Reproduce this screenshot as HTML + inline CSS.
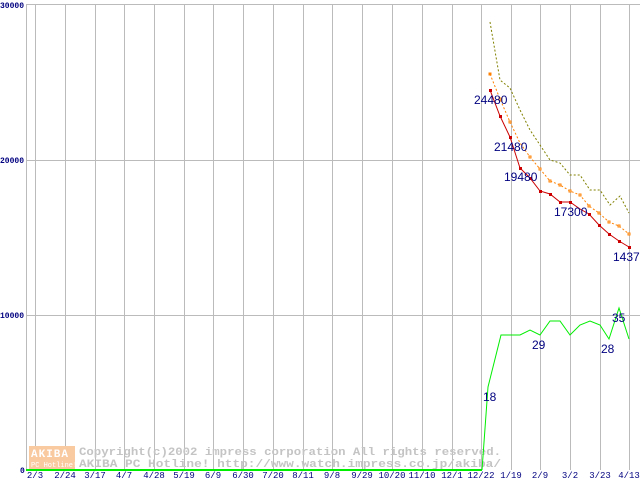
<!DOCTYPE html>
<html><head><style>body{margin:0;background:#fff}svg{display:block}</style></head><body>
<svg width="640" height="480" xmlns="http://www.w3.org/2000/svg" font-family="Liberation Mono, monospace">
<rect width="640" height="480" fill="#fff"/>
<g stroke="#bbb" stroke-width="1">
<line x1="26" y1="4.5" x2="640" y2="4.5"/>
<line x1="26" y1="160.5" x2="640" y2="160.5"/>
<line x1="26" y1="315.5" x2="640" y2="315.5"/>
<line x1="26.5" y1="4" x2="26.5" y2="470"/>
<line x1="35.5" y1="4" x2="35.5" y2="470"/><line x1="65.5" y1="4" x2="65.5" y2="470"/><line x1="95.5" y1="4" x2="95.5" y2="470"/><line x1="124.5" y1="4" x2="124.5" y2="470"/><line x1="154.5" y1="4" x2="154.5" y2="470"/><line x1="184.5" y1="4" x2="184.5" y2="470"/><line x1="213.5" y1="4" x2="213.5" y2="470"/><line x1="243.5" y1="4" x2="243.5" y2="470"/><line x1="273.5" y1="4" x2="273.5" y2="470"/><line x1="303.5" y1="4" x2="303.5" y2="470"/><line x1="332.5" y1="4" x2="332.5" y2="470"/><line x1="362.5" y1="4" x2="362.5" y2="470"/><line x1="392.5" y1="4" x2="392.5" y2="470"/><line x1="422.5" y1="4" x2="422.5" y2="470"/><line x1="452.5" y1="4" x2="452.5" y2="470"/><line x1="481.5" y1="4" x2="481.5" y2="470"/><line x1="511.5" y1="4" x2="511.5" y2="470"/><line x1="540.5" y1="4" x2="540.5" y2="470"/><line x1="570.5" y1="4" x2="570.5" y2="470"/><line x1="600.5" y1="4" x2="600.5" y2="470"/><line x1="629.5" y1="4" x2="629.5" y2="470"/>
</g>
<rect x="29" y="446" width="46" height="23" fill="#f9c9a0"/>
<text x="31" y="457" font-size="11" font-weight="bold" fill="#fff" letter-spacing="1">AKIBA</text>
<text x="31" y="467" font-size="7" fill="#fff">PC Hotline!</text>
<g fill="#c4c4c4" font-size="11" font-weight="bold">
<text x="79" y="455" textLength="422" lengthAdjust="spacingAndGlyphs">Copyright(c)2002 impress corporation All rights reserved.</text>
<text x="79" y="467" textLength="422" lengthAdjust="spacingAndGlyphs">AKIBA PC Hotline! http://www.watch.impress.co.jp/akiba/</text>
</g>
<polyline fill="none" stroke="#00ee00" stroke-width="2" points="26,470 482,470"/>
<polyline fill="none" stroke="#00ee00" stroke-width="1" points="482,470 488,387 501,335 520,335 530,330 540,335 550,321 560,321 570,335 580,325 590,321 600,325 609,339 619,308 629,339"/>
<polyline fill="none" stroke="#808000" stroke-width="1" stroke-dasharray="2,2" points="490,22 500,80 510,88 520,110 530,130 540,145 550,160 560,163 570,175 580,175 590,190 600,190 610,205 620,196 629,213"/>
<polyline fill="none" stroke="#ff8000" stroke-width="1" stroke-dasharray="2,2" points="490,74 500,99 510,122 520,143 530,157 540,169 550,181 560,185 570,191 580,195 589,206 599,213 609,222 619,226 629,234"/>
<g fill="#fff" stroke="#ff8000"><rect x="489" y="73" width="2" height="2" fill="#ff8000"/><rect x="499" y="98" width="2" height="2"/><rect x="509" y="121" width="2" height="2"/><rect x="529" y="156" width="2" height="2"/><rect x="539" y="168" width="2" height="2"/><rect x="549" y="180" width="2" height="2"/><rect x="559" y="184" width="2" height="2"/><rect x="569" y="190" width="2" height="2"/><rect x="579" y="194" width="2" height="2"/><rect x="588" y="205" width="2" height="2"/><rect x="598" y="212" width="2" height="2"/><rect x="608" y="221" width="2" height="2"/><rect x="618" y="225" width="2" height="2"/><rect x="628" y="233" width="2" height="2"/></g>
<polyline fill="none" stroke="#cc0000" stroke-width="1" points="490,90 500,116 510,137 520,168 530,178 540,191 550,194 560,202 570,202 580,209 589,214 599,225 609,234 619,241 629,247"/>
<g fill="#cc0000"><rect x="489" y="89" width="3" height="3"/><rect x="499" y="115" width="3" height="3"/><rect x="509" y="136" width="3" height="3"/><rect x="519" y="167" width="3" height="3"/><rect x="529" y="177" width="3" height="3"/><rect x="539" y="190" width="3" height="3"/><rect x="549" y="193" width="3" height="3"/><rect x="559" y="201" width="3" height="3"/><rect x="569" y="201" width="3" height="3"/><rect x="588" y="213" width="3" height="3"/><rect x="598" y="224" width="3" height="3"/><rect x="608" y="233" width="3" height="3"/><rect x="618" y="240" width="3" height="3"/><rect x="628" y="246" width="3" height="3"/></g>
<g fill="#000080" font-family="Liberation Sans, sans-serif" font-size="12">
<text x="474" y="104">24480</text><text x="494" y="151">21480</text><text x="504" y="181">19480</text><text x="554" y="216">17300</text><text x="613" y="261">14379</text>
<text x="483" y="401">18</text><text x="532" y="349">29</text><text x="601" y="353">28</text><text x="612" y="322">35</text>
</g>
<g fill="#000080" font-size="8" font-weight="bold">
<text x="0" y="8">30000</text><text x="0" y="163">20000</text><text x="0" y="318">10000</text><text x="20" y="473">0</text>
</g>
<g fill="#000080" font-size="9" text-anchor="middle">
<text x="35" y="478">2/3</text><text x="65" y="478">2/24</text><text x="95" y="478">3/17</text><text x="124" y="478">4/7</text><text x="154" y="478">4/28</text><text x="184" y="478">5/19</text><text x="213" y="478">6/9</text><text x="243" y="478">6/30</text><text x="273" y="478">7/20</text><text x="303" y="478">8/11</text><text x="332" y="478">9/8</text><text x="362" y="478">9/29</text><text x="392" y="478">10/20</text><text x="422" y="478">11/10</text><text x="452" y="478">12/1</text><text x="481" y="478">12/22</text><text x="511" y="478">1/19</text><text x="540" y="478">2/9</text><text x="570" y="478">3/2</text><text x="600" y="478">3/23</text><text x="629" y="478">4/13</text>
</g>
</svg>
</body></html>
